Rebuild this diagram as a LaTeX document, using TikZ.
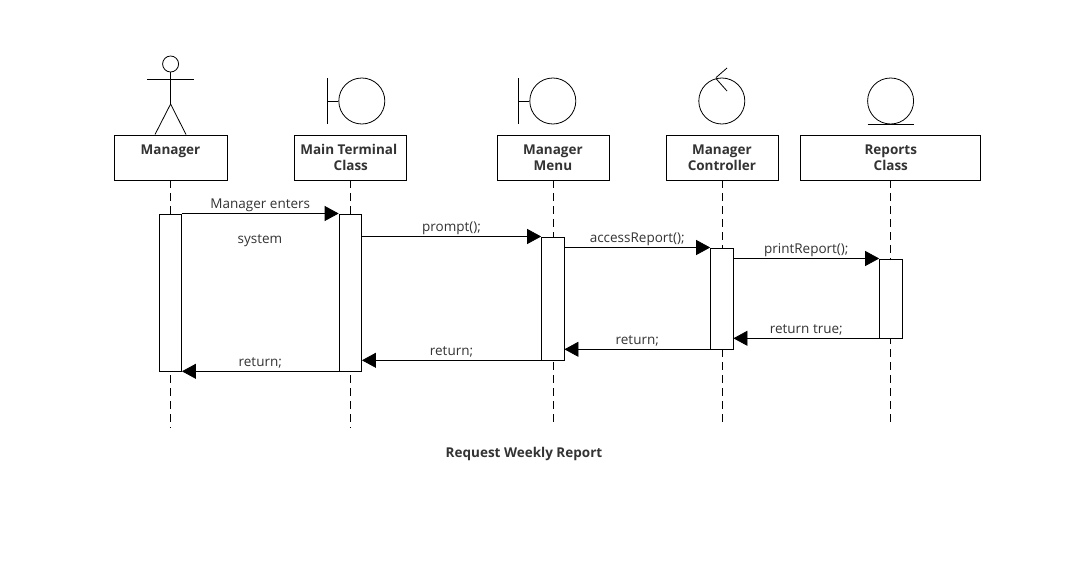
\documentclass[tikz,border=0pt]{standalone}
\usepackage{fontspec}
\setmainfont{Open Sans}
\usetikzlibrary{arrows.meta}
\definecolor{encre}{HTML}{333333}
\tikzset{
	boite/.style={draw=black, fill=white, align=center, inner sep=0pt, minimum height=45pt, text=encre, font=\fontsize{13.5}{16}\selectfont\bfseries},
	activation/.style={draw=black, fill=white, minimum width=22.5pt, inner sep=0pt},
	vie/.style={dash pattern=on 8pt off 5pt},
	icone/.style={circle, draw=black, minimum size=46pt, inner sep=0pt},
	message/.style={-{Triangle[length=14pt, width=15pt]}, black},
	etiquette/.style={text=encre, font=\fontsize{13.5}{14}\selectfont, inner sep=0pt, text height=10pt, text depth=0pt}
}
\begin{document}
\begin{tikzpicture}[x=1pt, y=-1pt, line width=0.8pt]
	\useasboundingbox (0,0) rectangle (1092,586);

	\foreach \name/\x/\larg/\fin/\texte in {manager/170.5/113/428/{Manager\\~}, terminal/350.8/112/428/{Main Terminal\hspace*{4pt}\\Class}, menu/552.9/112/423/{Manager\\Menu}, controller/721.9/112/423/{Manager\\Controller}, reports/890.8/180/426/{Reports\\Class}}{
		\node[boite, minimum width=\larg pt] (\name) at (\x, 157.4) {\texte};
		\coordinate (fin-\name) at (\x, \fin);
		\draw[vie] (\name) -- (fin-\name);
	}

	% acteur
	\node[circle, draw=black, minimum size=16pt, inner sep=0pt] (tete) at (170.6, 64) {};
	\coordinate (bassin) at (170.6, 104);
	\coordinate (brasG) at (147, 79.5);
	\coordinate (brasD) at (194, 79.5);
	\draw (tete) -- (bassin);
	\draw (brasG) -- (brasD);
	\draw (manager.north -| 155, 0) -- (bassin) -- (manager.north -| 186, 0);

	% icones
	\node[icone] (iconeTerminal) at (361.8, 101) {};
	\node[icone] (iconeMenu) at (552.8, 101) {};
	\node[icone] (iconeController) at (721.8, 101) {};
	\node[icone] (iconeReports) at (890.6, 101) {};
	\foreach \icon in {iconeTerminal, iconeMenu}{
		\draw (\icon.west) -- ++(-11, 0) coordinate (barre);
		\draw (barre) ++(0, -23) -- ++(0, 45.5);
	}
	\draw (727, 68) -- (iconeController.north -| 716, 0) ++(0, 1) -- (727, 91);
	\draw (iconeReports.south) ++(-23, 0) -- ++(46, 0);

	\node[activation, minimum height=157pt] (actManager) at (170.3, 292.4) {};
	\node[activation, minimum height=157pt] (actTerminal) at (350.3, 292.4) {};
	\node[activation, minimum height=123pt] (actMenu) at (552.8, 298.4) {};
	\node[activation, minimum height=101pt] (actController) at (721.8, 298.4) {};
	\node[activation, minimum height=79pt] (actReports) at (890.8, 298.4) {};

	\draw[message] (actManager.north east) -- node[etiquette, above=4.6pt] {Manager enters} (actTerminal.north west);
	\draw[message] (actTerminal.east |- actMenu.north) -- node[etiquette, above=4.6pt] {prompt();} (actMenu.north west);
	\draw[message] (actMenu.east |- actController.north) -- node[etiquette, above=4.6pt] {accessReport();} (actController.north west);
	\draw[message] (actController.east |- actReports.north) -- node[etiquette, above=4.6pt] {printReport();} (actReports.north west);
	\draw[message] (actReports.south west) -- node[etiquette, above=4.6pt] {return true;} (actController.east |- actReports.south);
	\draw[message] (actController.south west) -- node[etiquette, above=4.6pt] {return;} (actMenu.east |- actController.south);
	\draw[message] (actMenu.south west) -- node[etiquette, above=4.6pt] {return;} (actTerminal.east |- actMenu.south);
	\draw[message] (actTerminal.south west) -- node[etiquette, above=4.6pt] {return;} (actManager.south east);

	\node[etiquette] (suite) at (260, 238) {system};
	\node[etiquette, font=\fontsize{13.5}{14}\selectfont\bfseries] (titre) at (524, 452.7) {Request Weekly Report};
\end{tikzpicture}
\end{document}
